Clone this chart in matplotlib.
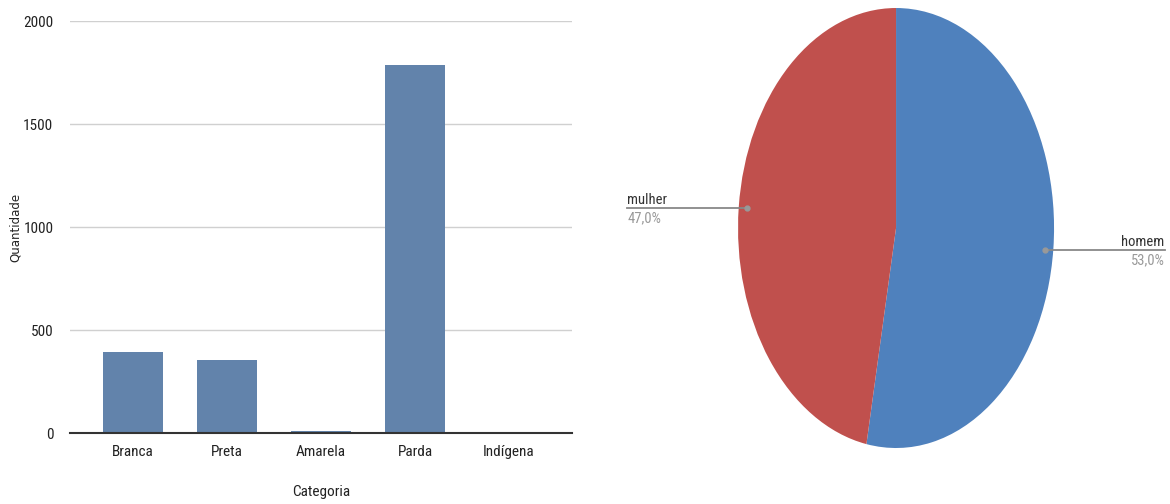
import matplotlib
matplotlib.use("Agg")
import matplotlib.pyplot as plt
from matplotlib import font_manager as fm
import numpy as np

categorias = ["Branca", "Preta", "Amarela", "Parda", "Indígena"]
quantidade = [395, 358, 12, 1787, 1]
y_ticks = [0, 500, 1000, 1500, 2000]

sexo_labels = ["homem", "mulher"]
sexo_pct = [53.0, 47.0]


def pick_font(cands):
    for name, stretch in cands:
        try:
            fp = fm.FontProperties(family=name, stretch=stretch)
            path = fm.findfont(fp, fallback_to_default=False)
            if path:
                return name, stretch
        except Exception:
            continue
    return "DejaVu Sans", "normal"


narrow_name, narrow_stretch = pick_font([
    ("Liberation Sans Narrow", "normal"),
    ("Roboto Condensed", "normal"),
    ("Open Sans Condensed", "normal"),
    ("DejaVu Sans Condensed", "normal"),
    ("Lato", "normal"),
])

plt.rcParams['font.family'] = [narrow_name, 'DejaVu Sans']
plt.rcParams['font.stretch'] = narrow_stretch

fig = plt.figure(figsize=(11.7, 5.04), dpi=100)

# Bar chart
ax = fig.add_axes([0.0598, 0.1399, 0.4291, 0.8184])
x = np.arange(len(categorias))
ax.bar(x, quantidade, width=0.64, color="#6283AB", zorder=3)
ax.set_xlim(-0.67, 4.67)
ax.set_ylim(0, 2000)
ax.set_yticks(y_ticks)
ax.set_yticklabels([str(v) for v in y_ticks], fontsize=11, color="#222222")
ax.set_xticks(x)
ax.set_xticklabels(categorias, fontsize=11, color="#222222")
ax.tick_params(length=0, pad=8)
ax.tick_params(axis='y', pad=12)
ax.yaxis.grid(True, color="#d0d0d0", linewidth=1, zorder=0)
for s in ["top", "right", "left"]:
    ax.spines[s].set_visible(False)
ax.spines["bottom"].set_color("#333333")
ax.spines["bottom"].set_linewidth(1.5)
ax.spines["bottom"].set_zorder(4)
ax.set_xlabel("Categoria", fontsize=11, color="#222222")
ax.xaxis.set_label_coords(0.5, -0.125)
ax.set_ylabel("Quantidade", fontsize=8.5, color="#222222",
              family=['DejaVu Sans'], stretch='normal')
ax.yaxis.set_label_coords(-0.095, 0.5)

# Pie chart (elliptical)
pax = fig.add_axes([0.6308, 0.1111, 0.2701, 0.873])
wedges, _ = pax.pie(sexo_pct, colors=["#4F81BD", "#C0504D"], startangle=90,
                    counterclock=False, radius=1.0, center=(0, 0), frame=False)
pax.set_xlim(-1, 1)
pax.set_ylim(-1, 1)
pax.set_aspect('auto')
pax.axis('off')

for w, lab, pct in zip(wedges, sexo_labels, sexo_pct):
    ang = np.deg2rad((w.theta1 + w.theta2) / 2)
    dx, dy = 0.95 * np.cos(ang), 0.95 * np.sin(ang)
    side = np.sign(dx)
    xend = 1.70 * side
    if side > 0:
        dy -= 0.012
    pax.plot([dx, xend], [dy, dy], color="#888888", linewidth=1.3, clip_on=False)
    pax.plot([dx], [dy], marker="o", markersize=3.5, color="#999999", clip_on=False)
    ha = "left" if side < 0 else "right"
    pax.text(xend, dy + 0.008, lab, ha=ha, va="bottom", fontsize=10.5,
             color="#333333", clip_on=False)
    pax.text(xend, dy - 0.012, f"{pct:.1f}%".replace(".", ","), ha=ha, va="top",
             fontsize=10.5, color="#999999", clip_on=False)

fig.savefig("out.png", dpi=100, facecolor="white")
